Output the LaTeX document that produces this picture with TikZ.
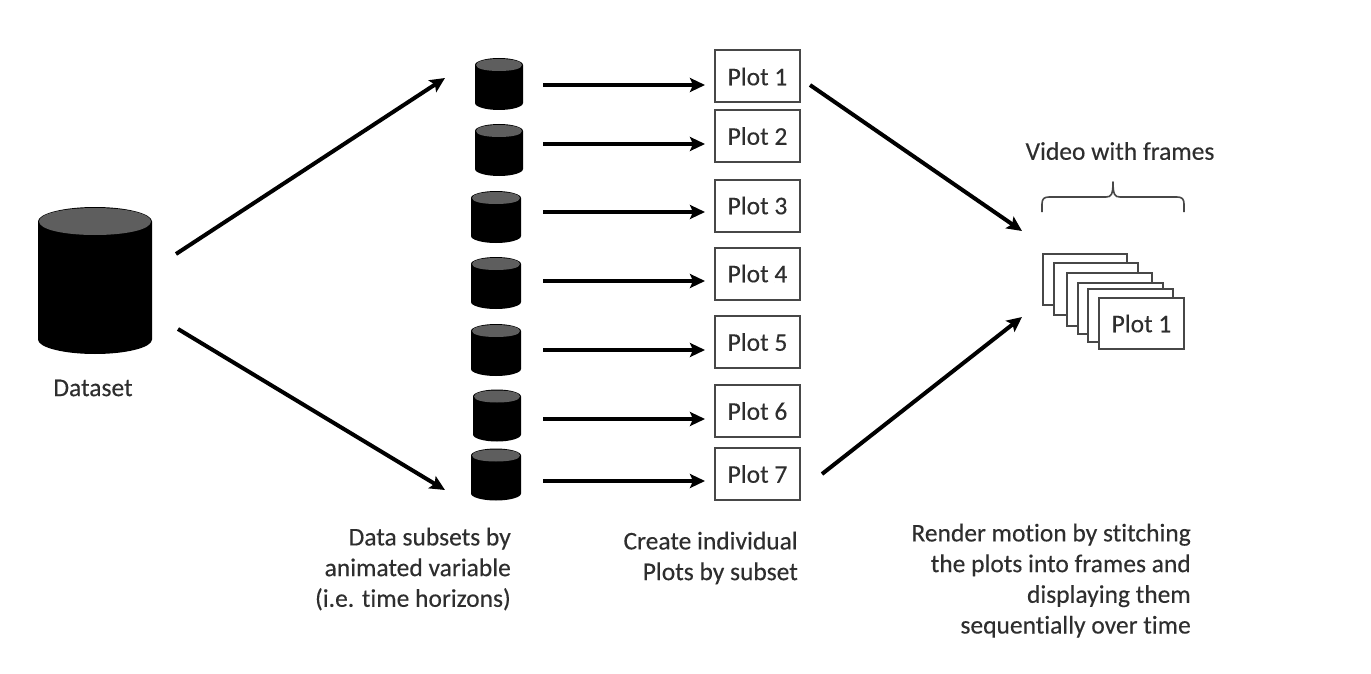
\documentclass[tikz,border=0pt]{standalone}
\usepackage{fontspec}
\setmainfont{Carlito}[Ligatures=NoCommon,FakeBold=0.25]
\usetikzlibrary{arrows.meta,calc}
\definecolor{inkgray}{HTML}{2E2E2E}
\definecolor{boxgray}{HTML}{474747}
\definecolor{captop}{HTML}{5E5E5E}
\newcommand{\cylbody}[4]{% node, half width, half height, end radius
  \begin{scope}[shift={(#1.center)}]
    \fill[black] (-#2,-#3+#4) -- (-#2,#3-#4)
      .. controls (-#2,#3-0.45*#4) and (-0.55*#2,#3) .. (0,#3)
      .. controls (0.55*#2,#3) and (#2,#3-0.45*#4) .. (#2,#3-#4)
      -- (#2,-#3+#4)
      .. controls (#2,-#3+0.45*#4) and (0.55*#2,-#3) .. (0,-#3)
      .. controls (-0.55*#2,-#3) and (-#2,-#3+0.45*#4) .. (-#2,-#3+#4) -- cycle;
    \fill[captop] (-#2+1,-#3+#4)
      .. controls (-#2+1,-#3+0.45*#4) and (-0.55*#2,-#3+1) .. (0,-#3+1)
      .. controls (0.55*#2,-#3+1) and (#2-1,-#3+0.45*#4) .. (#2-1,-#3+#4)
      .. controls (#2-1,-#3+1.55*#4) and (0.55*#2,-#3+2*#4-1) .. (0,-#3+2*#4-1)
      .. controls (-0.55*#2,-#3+2*#4-1) and (-#2+1,-#3+1.55*#4) .. (-#2+1,-#3+#4) -- cycle;
  \end{scope}}
\tikzset{
  x=1pt,y=-1pt,
  every node/.style={text=inkgray,font=\fontsize{25.5}{30.7}\selectfont},
  dbcyl/.style={inner sep=0pt,outer sep=0pt,minimum width=48pt,minimum height=52pt},
  bigcyl/.style={inner sep=0pt,outer sep=0pt,minimum width=114pt,minimum height=147pt},
  plotbox/.style={draw=boxgray,line width=2pt,fill=white,minimum width=85pt,minimum height=52pt,inner sep=0pt,outer sep=0pt},
  frame/.style={draw=boxgray,line width=2pt,fill=white},
  flow/.style={-{Stealth[length=15pt,width=14pt,inset=3pt]},line width=4pt,black},
  note/.style={align=right,anchor=north east,inner sep=0pt},
}
\begin{document}
\begin{tikzpicture}
\useasboundingbox (0,0) rectangle (1371,674);
\fill[white] (0,0) rectangle (1371,674);
% cylinders
\node[bigcyl] (ds) at (95,280.5) {};
\cylbody{ds}{57}{73.5}{14.5}
\node[dbcyl] (c1) at (499,84) {};
\cylbody{c1}{24}{26}{7}
\node[dbcyl] (c2) at (499,150) {};
\cylbody{c2}{24}{26}{7}
\node[dbcyl,minimum width=50pt] (c3) at (496,217) {};
\cylbody{c3}{25}{26}{7}
\node[dbcyl,minimum width=50pt] (c4) at (496,283) {};
\cylbody{c4}{25}{26}{7}
\node[dbcyl,minimum width=50pt] (c5) at (496,350) {};
\cylbody{c5}{25}{26}{7}
\node[dbcyl] (c6) at (497,415.5) {};
\cylbody{c6}{24}{26}{7}
\node[dbcyl,minimum width=50pt] (c7) at (496,474.5) {};
\cylbody{c7}{25}{26}{7}
% plots
\node[plotbox] (p1) at (757.5,76.5) {Plot 1};
\node[plotbox] (p2) at (757.5,136) {Plot 2};
\node[plotbox] (p3) at (757.5,205.5) {Plot 3};
\node[plotbox] (p4) at (757.5,273.5) {Plot 4};
\node[plotbox] (p5) at (757.5,342) {Plot 5};
\node[plotbox] (p6) at (757.5,411) {Plot 6};
\node[plotbox] (p7) at (757.5,474) {Plot 7};
% row levels
\coordinate (r1) at (620,85);
\coordinate (r2) at (620,144);
\coordinate (r3) at (620,212);
\coordinate (r4) at (620,281);
\coordinate (r5) at (620,350);
\coordinate (r6) at (620,419);
\coordinate (r7) at (620,481);
\draw[flow,shorten <=20pt,shorten >=10pt] (c1.east |- r1) -- (p1.west |- r1);
\draw[flow,shorten <=20pt,shorten >=10pt] (c2.east |- r2) -- (p2.west |- r2);
\draw[flow,shorten <=22pt,shorten >=10pt] (c3.east |- r3) -- (p3.west |- r3);
\draw[flow,shorten <=22pt,shorten >=10pt] (c4.east |- r4) -- (p4.west |- r4);
\draw[flow,shorten <=22pt,shorten >=10pt] (c5.east |- r5) -- (p5.west |- r5);
\draw[flow,shorten <=22pt,shorten >=10pt] (c6.east |- r6) -- (p6.west |- r6);
\draw[flow,shorten <=22pt,shorten >=10pt] (c7.east |- r7) -- (p7.west |- r7);
% long arrows
\coordinate (dsa) at (176,254);
\coordinate (dsb) at (178,329);
\coordinate (subtop) at (445,78);
\coordinate (subbot) at (445,490);
\coordinate (pa) at (810,85);
\coordinate (pb) at (822,474);
\coordinate (va) at (1022,231);
\coordinate (vb) at (1022,317);
\draw[flow] (dsa) -- (subtop);
\draw[flow] (dsb) -- (subbot);
\draw[flow] (pa) -- (va);
\draw[flow] (pb) -- (vb);
% frames
\draw[frame] (1043,254) rectangle (1127,305);
\draw[frame] (1054,263) rectangle (1138,315);
\draw[frame] (1067,273) rectangle (1152,326);
\draw[frame] (1078,283) rectangle (1163,334);
\draw[frame] (1088,289) rectangle (1173,342);
\node[frame,minimum width=85pt,minimum height=51pt,inner sep=0pt] (f6) at (1141.5,323.5) {Plot 1};
% brace
\coordinate (bl) at (1042,212);
\coordinate (br) at (1184,212);
\coordinate (bt) at (1113,182);
\draw[boxgray,line width=1.6pt,line join=round] (bl) -- (1042,204) .. controls (1042,199) and (1044,197) .. (1049,197)
  -- (1106,197) .. controls (1111,197) and (1113,195) .. (bt)
  .. controls (1113,195) and (1115,197) .. (1120,197) -- (1177,197)
  .. controls (1182,197) and (1184,199) .. (1184,204) -- (br);
% labels
\node (t1) at (93,388) {Dataset};
\node (t2) at (1120,151) {Video with frames};
\node[note] (t3) at (511,527.5) {Data subsets by\\animated variable\\(i.e. time horizons)};
\node[note] (t4) at (798,531.5) {Create individual\\Plots by subset};
\node[note] (t5) at (1191,523.5) {Render motion by stitching\\the plots into frames and\\displaying them\\sequentially over time};
\end{tikzpicture}
\end{document}
